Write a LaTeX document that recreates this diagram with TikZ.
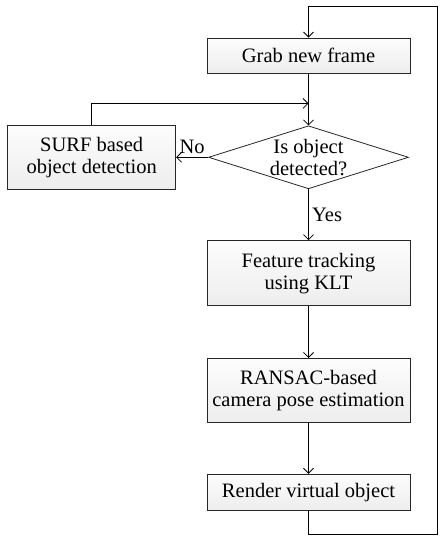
\documentclass[tikz,border=0pt]{standalone}
\usepackage{fontspec}
\setmainfont{Liberation Serif}
\usetikzlibrary{shapes.geometric, arrows.meta, positioning}

\begin{document}
\begin{tikzpicture}[
  node distance=52pt and 32pt,
  every node/.style={font=\fontsize{20.5}{22}\selectfont},
  box/.style={rectangle, draw=black!85, line width=0.8pt, minimum width=203pt, minimum height=35pt, inner sep=3pt, align=center, top color=gray!2, bottom color=gray!14},
  decision/.style={diamond, draw=black!85, line width=0.8pt, aspect=3.2, inner sep=0pt, minimum width=200pt, minimum height=63pt, align=center},
  arrow/.style={-{Straight Barb[length=5pt, width=10pt]}, line width=0.8pt},
  label/.style={font=\fontsize{20.5}{22}\selectfont},
]
  \useasboundingbox (0,0) rectangle (441pt,-537pt);

  \node[box] (grab) at (308.5pt,-55.5pt) {Grab new frame};
  \node[decision, below=of grab] (detect) {Is object\\detected?};
  \node[box, minimum width=168pt, minimum height=64pt, left=of detect] (surf) {SURF based\\object detection};
  \node[box, minimum height=65pt, below=51pt of detect] (klt) {Feature tracking\\using KLT};
  \node[box, minimum height=64pt, below=of klt] (ransac) {RANSAC-based\\camera pose estimation};
  \node[box, minimum height=36pt, below=51pt of ransac] (render) {Render virtual object};

  % corners of the two loops
  \coordinate (join) at ([yshift=-30pt]grab.south);
  \coordinate (loopbottom) at (437pt,-534pt);
  \coordinate (looptop) at (437pt,-6pt);

  \draw[arrow] (grab) -- (detect);
  \draw[arrow] (detect) -- node[above, label]{No} (surf);
  \draw[arrow] (surf.north) |- (join);
  \draw[arrow] (detect) -- node[right, label]{Yes} (klt);
  \draw[arrow] (klt) -- (ransac);
  \draw[arrow] (ransac) -- (render);
  \draw[arrow] (render.south) |- (loopbottom) -- (looptop) -| (grab.north);
\end{tikzpicture}
\end{document}
